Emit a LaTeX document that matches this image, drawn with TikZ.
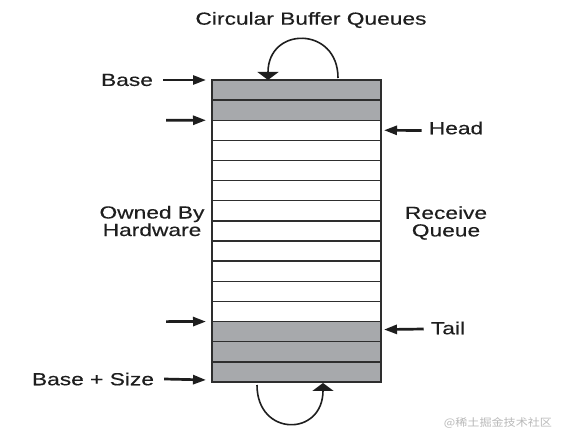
\documentclass[tikz,border=0pt]{standalone}
\usepackage{fontspec}
\setmainfont{Liberation Sans}[FakeStretch=1.3,FakeBold=0.35]
\newfontfamily\cjk{Noto Sans CJK SC}[FakeStretch=1.15]
\usetikzlibrary{arrows.meta}
\definecolor{cellgray}{HTML}{A7A9AC}
\definecolor{edge}{HTML}{2E2E2E}
\definecolor{ink}{HTML}{1E1E1E}
\begin{document}
\begin{tikzpicture}[x=1pt,y=1pt,
  cell/.style={draw=edge,line width=1.4pt,minimum width=169pt,minimum height=20.13pt,inner sep=0pt,outer sep=0pt},
  freecell/.style={cell,fill=white},
  hwcell/.style={cell,fill=cellgray},
  lbl/.style={text=ink,font=\fontsize{17.5}{17.5}\selectfont,inner sep=0pt,align=center},
  larrow/.style={draw=ink,line width=2.7pt,-{Triangle[length=13pt,width=9pt]}},
  loop/.style={draw=ink,line width=1.6pt,-{Triangle[length=8pt,width=21pt]}},
  lineend/.style={draw=ink,line width=1.5pt}
]
\useasboundingbox (0,0) rectangle (565,-436);
\fill[white] (0,0) rectangle (565,-436);
% rows
\foreach \k/\s in {1/hwcell,2/hwcell,3/freecell,4/freecell,5/freecell,6/freecell,7/freecell,8/freecell,9/freecell,10/freecell,11/freecell,12/freecell,13/hwcell,14/hwcell,15/hwcell}{
  \node[\s] (r\k) at (296.5,{-(80+20.13*(\k-0.5))}) {};
}
% labels
\node[lbl] (title) at (311,-20) {Circular Buffer Queues};
\node[lbl] (base) at (127,-80) {Base};
\node[lbl] (basesize) at (93,-379) {Base + Size};
\node[lbl] (head) at (456,-128) {Head};
\node[lbl] (tail) at (448,-328) {Tail};
\node[lbl] (owned) at (152,-221) {Owned By\\Hardware};
\node[lbl] (recv) at (446,-223) {Receive\\Queue};
\node[text=gray!55,font=\cjk\fontsize{10.5}{10.5}\selectfont,inner sep=0pt] (wm) at (498,-423) {@稀土掘金技术社区};
% arrows
\coordinate (a2) at (166,-120.3);
\coordinate (a3) at (166,-321.6);
\draw[larrow] ([xshift=10pt]base.east) -- ([xshift=-6pt]r1.north west);
\draw[larrow] (a2) -- ([xshift=-6pt]r2.south west);
\draw[larrow] (a3) -- ([xshift=-6pt]r12.south west);
\draw[larrow] ([xshift=10pt,yshift=0pt]basesize.east) -- ([xshift=-6pt,yshift=2pt]r15.south west);
\draw[larrow] ([xshift=-7pt,yshift=-2.5pt]head.west) -- ([xshift=3pt,yshift=-10pt]r3.north east);
\draw[larrow] ([xshift=-7pt,yshift=-1pt]tail.west) -- ([xshift=3pt,yshift=-8pt]r13.north east);
% loops
\coordinate (ts) at (338,-78);
\coordinate (bs) at (257,-385);
\draw[loop] (ts) .. controls (338,-26) and (268,-26) .. ([xshift=-28.5pt]r1.north);
\draw[loop] (bs) .. controls (257,-437) and (323,-437) .. ([xshift=26.5pt,yshift=-1pt]r15.south);
\end{tikzpicture}
\end{document}
